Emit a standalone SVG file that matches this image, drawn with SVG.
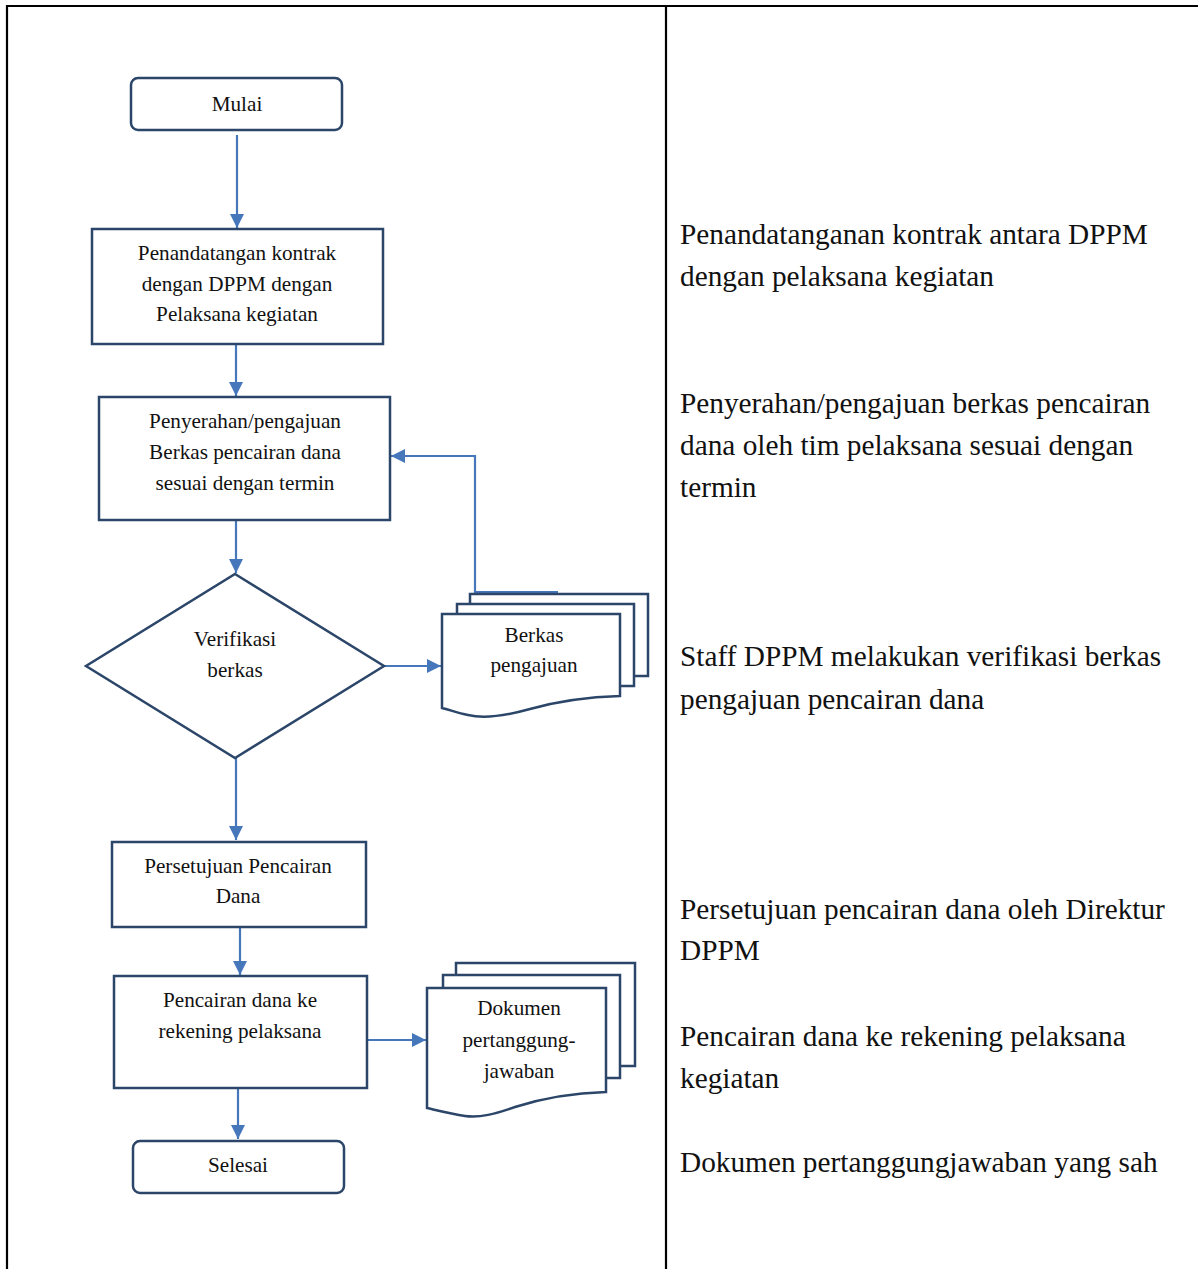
<svg xmlns="http://www.w3.org/2000/svg" width="1198" height="1269" viewBox="0 0 1198 1269">
<defs>
<style>
.nd{fill:#fff;stroke:#2c4669;stroke-width:2.5}
.t{font-family:"Liberation Serif","Times New Roman",serif;font-size:21.2px;fill:#111;text-anchor:middle}
.r{font-family:"Liberation Serif","Times New Roman",serif;font-size:29.3px;fill:#111}
.c{fill:none;stroke:#4677ba;stroke-width:2.2}
.tb{fill:none;stroke:#000;stroke-width:2.2}
</style>
<marker id="ah" viewBox="0 0 14 14" refX="14" refY="7" markerWidth="14" markerHeight="14" markerUnits="userSpaceOnUse" orient="auto">
<path d="M0,0 L14,7 L0,14 Z" fill="#4677ba"/>
</marker>
</defs>
<rect width="1198" height="1269" fill="#fff"/>
<g id="table">
<path class="tb" d="M7,1269 V6 H1198 M666,6 V1269"/>
</g>
<g id="connectors">
<path class="c" d="M237,135 V228" marker-end="url(#ah)"/>
<path class="c" d="M236,344 V396" marker-end="url(#ah)"/>
<path class="c" d="M236,520 V573" marker-end="url(#ah)"/>
<path class="c" d="M384,666 H441" marker-end="url(#ah)"/>
<path class="c" d="M558,592 H475 V456 H391" marker-end="url(#ah)"/>
<path class="c" d="M236,758 V840" marker-end="url(#ah)"/>
<path class="c" d="M240,927 V975" marker-end="url(#ah)"/>
<path class="c" d="M367,1040 H426" marker-end="url(#ah)"/>
<path class="c" d="M238,1088 V1139" marker-end="url(#ah)"/>
</g>
<g id="mulai">
<rect class="nd" x="131" y="78" width="211" height="52" rx="7"/>
<text class="t" x="237" y="111">Mulai</text>
</g>
<g id="penandatanganan">
<rect class="nd" x="92" y="229" width="291" height="115"/>
<text class="t" x="237" y="260">Penandatangan kontrak</text>
<text class="t" x="237" y="291">dengan DPPM dengan</text>
<text class="t" x="237" y="321">Pelaksana kegiatan</text>
</g>
<g id="penyerahan">
<rect class="nd" x="99" y="397" width="291" height="123"/>
<text class="t" x="245" y="428">Penyerahan/pengajuan</text>
<text class="t" x="245" y="459">Berkas pencairan dana</text>
<text class="t" x="245" y="490">sesuai dengan termin</text>
</g>
<g id="verifikasi">
<path class="nd" d="M235,574 L384,666 L235,758 L86,666 Z"/>
<text class="t" x="235" y="646">Verifikasi</text>
<text class="t" x="235" y="677">berkas</text>
</g>
<g id="berkas">
<path class="nd" d="M470,676 V594 H648 V676 Z"/>
<path class="nd" d="M457,686 V604 H634 V686 Z"/>
<path class="nd" d="M442,708 V614 H620 V696 C585,697 555,702 530,709 C505,716 485,719 468,715 C458,713 450,710 442,708 Z"/>
<text class="t" x="534" y="642">Berkas</text>
<text class="t" x="534" y="672">pengajuan</text>
</g>
<g id="persetujuan">
<rect class="nd" x="112" y="842" width="254" height="85"/>
<text class="t" x="238" y="873">Persetujuan Pencairan</text>
<text class="t" x="238" y="903">Dana</text>
</g>
<g id="pencairan">
<rect class="nd" x="114" y="976" width="253" height="112"/>
<text class="t" x="240" y="1007">Pencairan dana ke</text>
<text class="t" x="240" y="1038">rekening pelaksana</text>
</g>
<g id="dokumen">
<path class="nd" d="M456,1066 V963 H635 V1066 Z"/>
<path class="nd" d="M443,1078 V975 H620 V1078 Z"/>
<path class="nd" d="M427,1108 V988 H606 V1092 C570,1093 540,1099 515,1107 C495,1114 480,1118 465,1116 C452,1114 440,1111 427,1108 Z"/>
<text class="t" x="519" y="1015">Dokumen</text>
<text class="t" x="519" y="1047">pertanggung-</text>
<text class="t" x="519" y="1078">jawaban</text>
</g>
<g id="selesai">
<rect class="nd" x="133" y="1141" width="211" height="52" rx="7"/>
<text class="t" x="238" y="1172">Selesai</text>
</g>
<g id="keterangan">
<text class="r" x="680" y="244">Penandatanganan kontrak antara DPPM</text>
<text class="r" x="680" y="286">dengan pelaksana kegiatan</text>
<text class="r" x="680" y="413">Penyerahan/pengajuan berkas pencairan</text>
<text class="r" x="680" y="455">dana oleh tim pelaksana sesuai dengan</text>
<text class="r" x="680" y="497">termin</text>
<text class="r" x="680" y="666">Staff DPPM melakukan verifikasi berkas</text>
<text class="r" x="680" y="709">pengajuan pencairan dana</text>
<text class="r" x="680" y="919">Persetujuan pencairan dana oleh Direktur</text>
<text class="r" x="680" y="960">DPPM</text>
<text class="r" x="680" y="1046">Pencairan dana ke rekening pelaksana</text>
<text class="r" x="680" y="1088">kegiatan</text>
<text class="r" x="680" y="1172">Dokumen pertanggungjawaban yang sah</text>
</g>
</svg>
